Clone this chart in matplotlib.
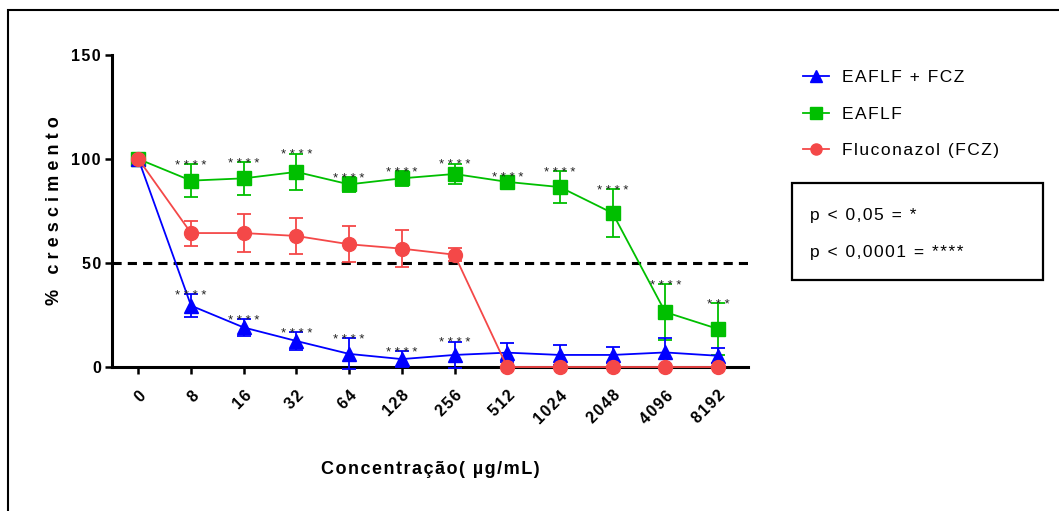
import matplotlib
matplotlib.use("Agg")
import matplotlib.pyplot as plt
from matplotlib.lines import Line2D
from matplotlib.patches import Rectangle

FAM = ["Liberation Sans", "DejaVu Sans"]
plt.rcParams["font.family"] = FAM

# Data
conc = ["0", "8", "16", "32", "64", "128", "256", "512", "1024", "2048", "4096", "8192"]

combo_mean = [100, 29.5, 19, 12.5, 6.3, 3.8, 5.8, 6.9, 5.8, 5.8, 7.0, 5.4]
combo_err = [0, 5.5, 4, 4.2, 7.5, 3.7, 6.4, 4.5, 5, 4, 7, 3.5]
combo_stars = ["", "****", "****", "****", "****", "****", "****", "", "", "", "", ""]

eaflf_mean = [100, 89.6, 90.7, 93.8, 87.8, 90.7, 92.8, 89.0, 86.5, 74.0, 26.4, 18.3]
eaflf_err = [0, 7.8, 8, 8.8, 3.7, 3.5, 5, 2.8, 7.5, 11.5, 13.5, 12.3]
eaflf_stars = ["", "****", "****", "****", "****", "****", "****", "****", "****", "****", "****", "***"]

fcz_mean = [100, 64.4, 64.4, 63.0, 59.0, 56.9, 54.0, 0, 0, 0, 0, 0]
fcz_err = [0, 6, 9, 8.7, 8.7, 9, 3, 0, 0, 0, 0, 0]

BLUE = "#0000FF"
GREEN = "#00BF00"
RED = "#F44848"


def spaced(s, gap="\u200a"):
    # letter spacing like the original GraphPad export
    return gap.join(s)


fig = plt.figure(figsize=(10.59, 5.11), dpi=100)
ax = fig.add_axes([112 / 1059, 1 - 367 / 511, (748 - 112) / 1059, (367 - 55) / 511])

x = list(range(len(conc)))

series = [
    (combo_mean, combo_err, BLUE, "^", "EAFLF + FCZ", 3),
    (eaflf_mean, eaflf_err, GREEN, "s", "EAFLF", 2),
    (fcz_mean, fcz_err, RED, "o", "Fluconazol (FCZ)", 4),
]
for mean, err, col, mk, lab, z in series:
    ax.errorbar(x, mean, yerr=err, color=col, marker=mk, markersize=10,
                linewidth=1.3, elinewidth=1.3, capsize=5, capthick=1.3,
                zorder=z, clip_on=False)

# 50 % reference line
ax.axhline(50, color="black", linestyle=(0, (3, 2)), linewidth=2.2, zorder=1)

# significance stars
for mean, err, stars in [(combo_mean, combo_err, combo_stars),
                         (eaflf_mean, eaflf_err, eaflf_stars)]:
    for xi, m, e, s in zip(x, mean, err, stars):
        if s:
            ax.annotate(" ".join(s), (xi, m + e), xytext=(0, -3.5),
                        textcoords="offset points", ha="center",
                        va="baseline", fontsize=9.5, color="#222222", zorder=6)

ax.set_xlim(-0.5, 11.57)
ax.set_ylim(0, 150)
ax.set_yticks([0, 50, 100, 150])
ax.set_yticklabels([spaced(str(v)) for v in [0, 50, 100, 150]],
                   fontsize=11.5, fontweight="bold")
ax.set_xticks(x)
ax.set_xticklabels([spaced(c) for c in conc], rotation=45, ha="right",
                   va="top", rotation_mode="anchor", fontsize=11.5,
                   fontweight="bold")
for sp in ["top", "right"]:
    ax.spines[sp].set_visible(False)
for sp in ["left", "bottom"]:
    ax.spines[sp].set_linewidth(2.2)
    ax.spines[sp].set_zorder(2.5)
ax.tick_params(axis="both", direction="out", length=5, width=1.8)
ax.tick_params(axis="x", pad=10)
ax.tick_params(axis="y", pad=3)

ax.set_ylabel(spaced("% crescimento", "\u2009\u200a"), fontsize=13,
              fontweight="bold", labelpad=6)
ax.set_xlabel(spaced("Concentração( µg/mL)"), fontsize=13,
              fontweight="bold", labelpad=25)

# legend
handles = [Line2D([], [], color=c, marker=m, markersize=8, linewidth=1.3)
           for _, _, c, m, _, _ in series]
labels = [spaced(l) for *_, l, _ in series]
fig.legend(handles, labels, loc="upper left",
           bbox_to_anchor=(787 / 1059, 1 - 54 / 511), frameon=False,
           fontsize=12.5, handlelength=1.5, handletextpad=0.75,
           labelspacing=1.25)

# p-value box
fig.add_artist(Rectangle((792 / 1059, 1 - 280 / 511), (1043 - 792) / 1059,
                         (280 - 183) / 511, transform=fig.transFigure,
                         fill=False, edgecolor="black", linewidth=1.6))
fig.text(810 / 1059, 1 - 215 / 511, spaced("p < 0,05 = *"),
         fontsize=12.5, va="center")
fig.text(810 / 1059, 1 - 252 / 511, spaced("p < 0,0001 = ****"),
         fontsize=12.5, va="center")

# outer frame (left and top edges visible)
fig.add_artist(Rectangle((8 / 1059, -0.05), 1.1, 1.05 - 10 / 511,
                         transform=fig.transFigure, fill=False,
                         edgecolor="black", linewidth=1.5))

fig.savefig("out.png", dpi=100)
